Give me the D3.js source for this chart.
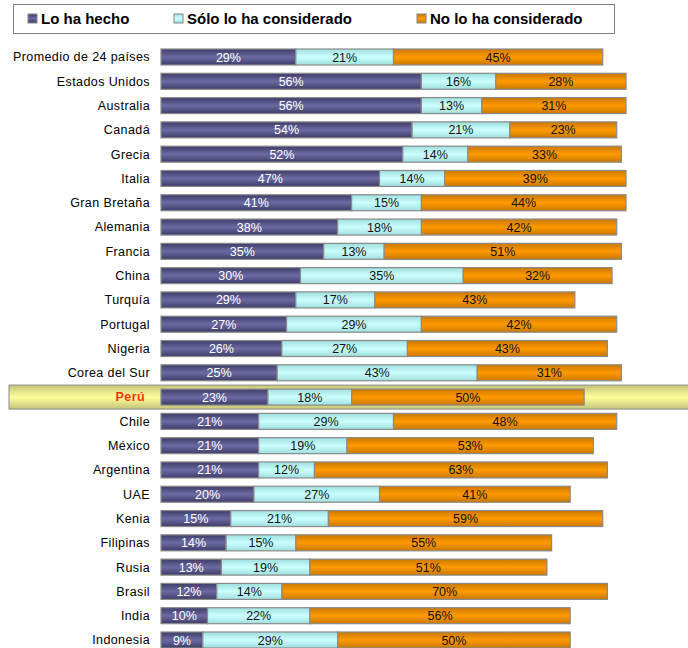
<!DOCTYPE html>
<html>
<head>
<meta charset="utf-8">
<script src="https://cdn.jsdelivr.net/npm/d3@7"></script>
<style>
  body { margin: 0; background: #fff; }
  svg { display: block; font-family: "Liberation Sans", Arial, sans-serif; }
</style>
</head>
<body>
<script>
// Categories and series values (percent)
var paises = ["Promedio de 24 países", "Estados Unidos", "Australia", "Canadá", "Grecia", "Italia",
  "Gran Bretaña", "Alemania", "Francia", "China", "Turquía", "Portugal", "Nigeria", "Corea del Sur",
  "Perú", "Chile", "México", "Argentina", "UAE", "Kenia", "Filipinas", "Rusia", "Brasil", "India", "Indonesia"];
var loHaHecho = [29, 56, 56, 54, 52, 47, 41, 38, 35, 30, 29, 27, 26, 25, 23, 21, 21, 21, 20, 15, 14, 13, 12, 10, 9];
var soloConsiderado = [21, 16, 13, 21, 14, 14, 15, 18, 13, 35, 17, 29, 27, 43, 18, 29, 19, 12, 27, 21, 15, 19, 14, 22, 29];
var noConsiderado = [45, 28, 31, 23, 33, 39, 44, 42, 51, 32, 43, 42, 43, 31, 50, 48, 53, 63, 41, 59, 55, 51, 70, 56, 50];
var series = ["Lo ha hecho", "Sólo lo ha considerado", "No lo ha considerado"];
var highlight = "Perú";

var width = 688, height = 648;

var svg = d3.select("body").append("svg")
    .attr("width", width)
    .attr("height", height);

// gradients for the bars
var defs = svg.append("defs");
var grads = [
  { id: "g0", stops: ["#3e3c68", "#6c6aa2", "#3e3c68"] },
  { id: "g1", stops: ["#9fdede", "#ccffff", "#9fdede"] },
  { id: "g2", stops: ["#c97800", "#ff9a00", "#c97800"] },
  { id: "gy", stops: ["#c4c47a", "#ffff9c", "#c4c47a"] }
];
grads.forEach(function(g) {
  var lg = defs.append("linearGradient").attr("id", g.id)
      .attr("x1", 0).attr("y1", 0).attr("x2", 0).attr("y2", 1);
  lg.append("stop").attr("offset", "0%").attr("stop-color", g.stops[0]);
  lg.append("stop").attr("offset", "50%").attr("stop-color", g.stops[1]);
  lg.append("stop").attr("offset", "100%").attr("stop-color", g.stops[2]);
});

var data = paises.map(function(p, i) {
  return { pais: p, "Lo ha hecho": loHaHecho[i], "Sólo lo ha considerado": soloConsiderado[i], "No lo ha considerado": noConsiderado[i] };
});

var x = d3.scaleLinear().domain([0, 100]).range([161, 626]);
var y = d3.scalePoint().domain(paises).range([57, 640]);
var barH = 16;

var stacked = d3.stack().keys(series)(data);
var fills = ["url(#g0)", "url(#g1)", "url(#g2)"];
var textColors = ["#ffffff", "#111111", "#111111"];

// highlight band for Peru
svg.append("rect")
    .attr("x", 9)
    .attr("y", y(highlight) - 12)
    .attr("width", width - 8)
    .attr("height", 24)
    .attr("fill", "url(#gy)")
    .attr("stroke", "#8c8c8c")
    .attr("stroke-width", 1);

// country labels
svg.append("g").selectAll("text")
    .data(paises)
    .enter().append("text")
    .attr("x", function(d) { return d === highlight ? 145 : 150; })
    .attr("y", function(d) { return y(d); })
    .attr("dy", "0.35em")
    .attr("text-anchor", "end")
    .style("font-size", "12.5px")
    .style("letter-spacing", "0.4px")
    .style("font-weight", function(d) { return d === highlight ? "bold" : "normal"; })
    .style("fill", function(d) { return d === highlight ? "#ff3300" : "#000"; })
    .text(function(d) { return d; });

// bars
stacked.forEach(function(layer, k) {
  var g = svg.append("g");
  g.selectAll("rect")
      .data(layer)
      .enter().append("rect")
      .attr("x", function(d) { return x(d[0]); })
      .attr("y", function(d) { return y(d.data.pais) - barH / 2; })
      .attr("width", function(d) { return x(d[1]) - x(d[0]); })
      .attr("height", barH)
      .attr("fill", fills[k])
      .attr("stroke", "#8a8a8a")
      .attr("stroke-width", 1.2);
  g.selectAll("text")
      .data(layer)
      .enter().append("text")
      .attr("x", function(d) { return (x(d[0]) + x(d[1])) / 2; })
      .attr("y", function(d) { return y(d.data.pais); })
      .attr("dy", "0.36em")
      .attr("text-anchor", "middle")
      .style("font-size", "12.5px")
      .style("fill", textColors[k])
      .text(function(d) { return (d[1] - d[0]) + "%"; });
});

// legend
var legend = svg.append("g");
legend.append("rect")
    .attr("x", 13.5).attr("y", 4.5)
    .attr("width", 601).attr("height", 29)
    .attr("fill", "#fff")
    .attr("stroke", "#808080")
    .attr("stroke-width", 1);
var legX = [28, 174, 417];
series.forEach(function(s, k) {
  legend.append("rect")
      .attr("x", legX[k]).attr("y", 14)
      .attr("width", 9).attr("height", 9)
      .attr("fill", fills[k])
      .attr("stroke", "#888");
  legend.append("text")
      .attr("x", legX[k] + 13)
      .attr("y", 19)
      .attr("dy", "0.36em")
      .style("font-size", "15px")
      .style("font-weight", "bold")
      .text(s);
});
</script>
</body>
</html>
